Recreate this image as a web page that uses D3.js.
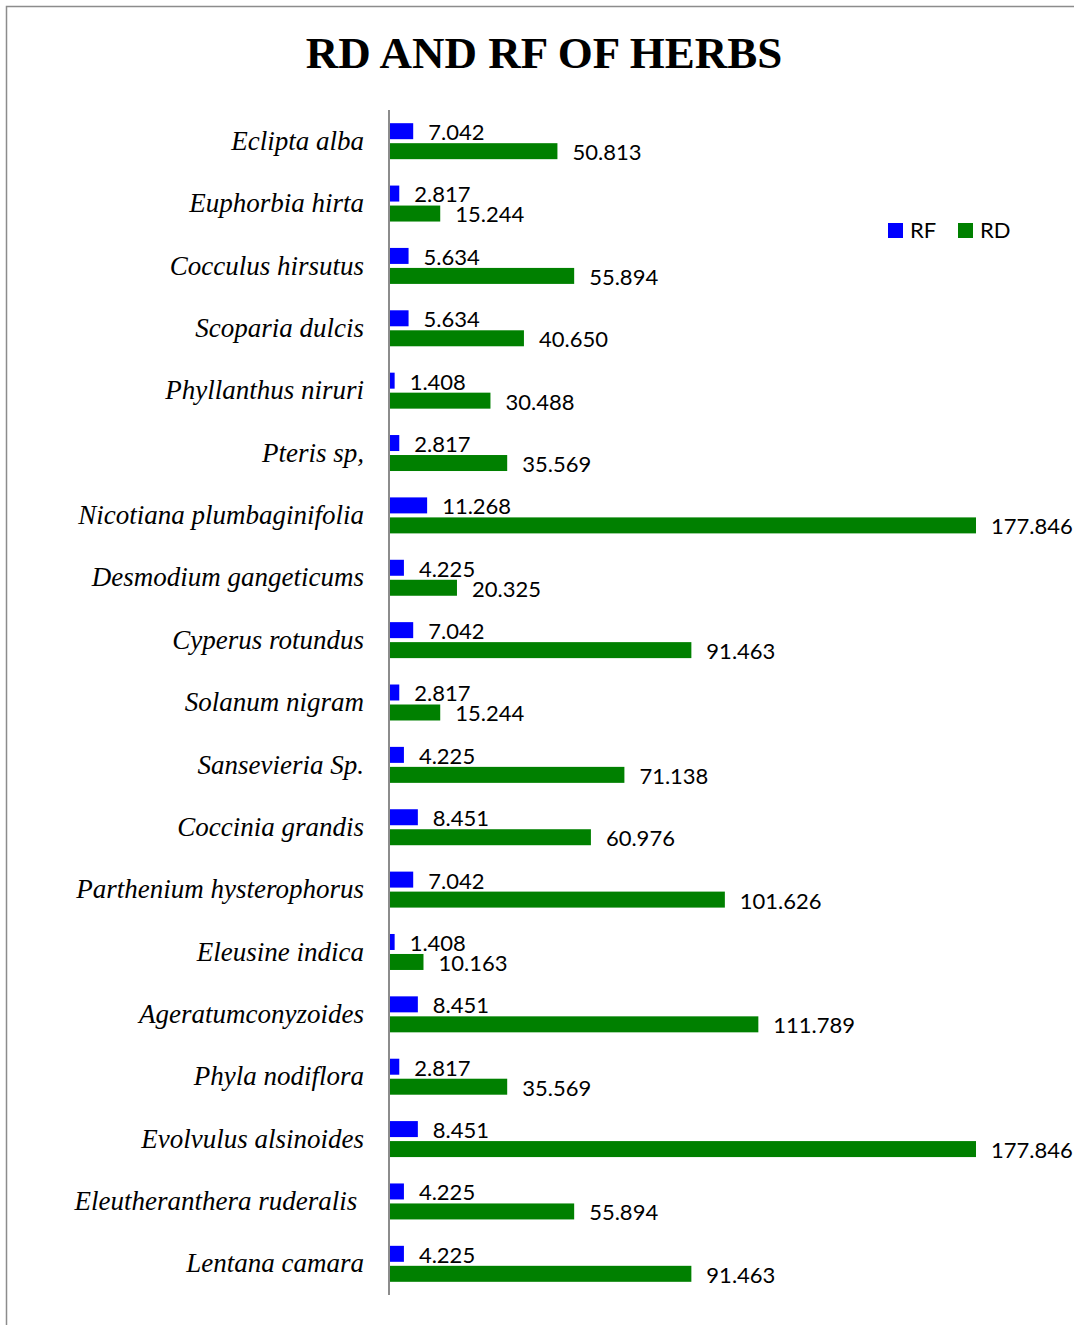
<!DOCTYPE html>
<html>
<head>
<meta charset="utf-8">
<script src="https://cdn.jsdelivr.net/npm/d3@7"></script>
<style>
  html, body { margin: 0; padding: 0; background: #fff; }
  svg { display: block; }
</style>
</head>
<body>
<svg id="chart" width="1074" height="1325"></svg>
<script>
// Herb species, top to bottom
const species = [
  "Eclipta alba", "Euphorbia hirta", "Cocculus hirsutus", "Scoparia dulcis",
  "Phyllanthus niruri", "Pteris sp,", "Nicotiana plumbaginifolia",
  "Desmodium gangeticums", "Cyperus rotundus", "Solanum nigram",
  "Sansevieria Sp.", "Coccinia grandis", "Parthenium hysterophorus",
  "Eleusine indica", "Ageratumconyzoides", "Phyla nodiflora",
  "Evolvulus alsinoides", "Eleutheranthera ruderalis ", "Lentana camara"
];
// Relative frequency
const rf = [7.042, 2.817, 5.634, 5.634, 1.408, 2.817, 11.268, 4.225, 7.042, 2.817,
            4.225, 8.451, 7.042, 1.408, 8.451, 2.817, 8.451, 4.225, 4.225];
// Relative density
const rd = [50.813, 15.244, 55.894, 40.650, 30.488, 35.569, 177.846, 20.325, 91.463, 15.244,
            71.138, 60.976, 101.626, 10.163, 111.789, 35.569, 177.846, 55.894, 91.463];
const seriesNames = ["RF", "RD"];
const seriesColors = ["#0000ff", "#008000"];

const svg = d3.select("#chart");

// Outer frame
svg.append("path")
  .attr("d", "M6.5,1325 V6.5 H1074")
  .attr("fill", "none")
  .attr("stroke", "#8c8c8c")
  .attr("stroke-width", 1.5);

// Title
svg.append("text")
  .attr("x", 544).attr("y", 68)
  .attr("text-anchor", "middle")
  .attr("font-family", "'Liberation Serif', 'Times New Roman', serif")
  .attr("font-weight", "bold")
  .attr("font-size", 45)
  .attr("fill", "#000")
  .text("RD AND RF OF HERBS");

const x = d3.scaleLinear().domain([0, 200]).range([390, 1049]);
const y = d3.scaleBand().domain(species).range([110, 1295]);
const ySub = d3.scaleBand().domain(seriesNames).range([0, y.bandwidth()])
  .paddingInner(0.2).paddingOuter(0.66);

const rows = species.map((name, i) => ({ name, values: [rf[i], rd[i]] }));

const groups = svg.append("g").selectAll("g")
  .data(rows).join("g")
  .attr("transform", d => `translate(0,${y(d.name)})`);

const marks = groups.selectAll("g.mark")
  .data(d => d.values.map((v, j) => ({ key: seriesNames[j], value: v, color: seriesColors[j] })))
  .join("g").attr("class", "mark");

marks.append("rect")
  .attr("x", x(0))
  .attr("y", d => ySub(d.key))
  .attr("width", d => x(d.value) - x(0))
  .attr("height", ySub.bandwidth())
  .attr("fill", d => d.color);

marks.append("text")
  .attr("x", d => x(d.value) + 15)
  .attr("y", d => ySub(d.key) + ySub.bandwidth() / 2 + 1)
  .attr("dy", "0.36em")
  .attr("font-family", "Lato, 'Open Sans', sans-serif")
  .attr("font-size", 22)
  .attr("fill", "#000")
  .text(d => d.value.toFixed(3));

// Category axis
const yAxis = d3.axisLeft(y).tickSize(0).tickPadding(25);
const axisG = svg.append("g")
  .attr("transform", `translate(${x(0) - 1},0)`)
  .call(yAxis);
axisG.select(".domain")
  .attr("d", `M0,${y.range()[0]}V${y.range()[1]}`)
  .attr("stroke", "#8c8c8c")
  .attr("stroke-width", 2);
axisG.selectAll(".tick text")
  .attr("font-family", "'Liberation Serif', 'Times New Roman', serif")
  .attr("font-style", "italic")
  .attr("font-size", 27)
  .attr("fill", "#000")
  .style("white-space", "pre");

// Legend
const legend = svg.append("g").attr("transform", "translate(888,223)");
const li = legend.selectAll("g").data(seriesNames).join("g")
  .attr("transform", (d, i) => `translate(${i * 70},0)`);
li.append("rect").attr("width", 15).attr("height", 15)
  .attr("fill", (d, i) => seriesColors[i]);
li.append("text").attr("x", 22).attr("y", 7.5).attr("dy", "0.36em")
  .attr("font-family", "Lato, 'Open Sans', sans-serif")
  .attr("font-size", 22)
  .attr("fill", "#000")
  .text(d => d);
</script>
</body>
</html>
